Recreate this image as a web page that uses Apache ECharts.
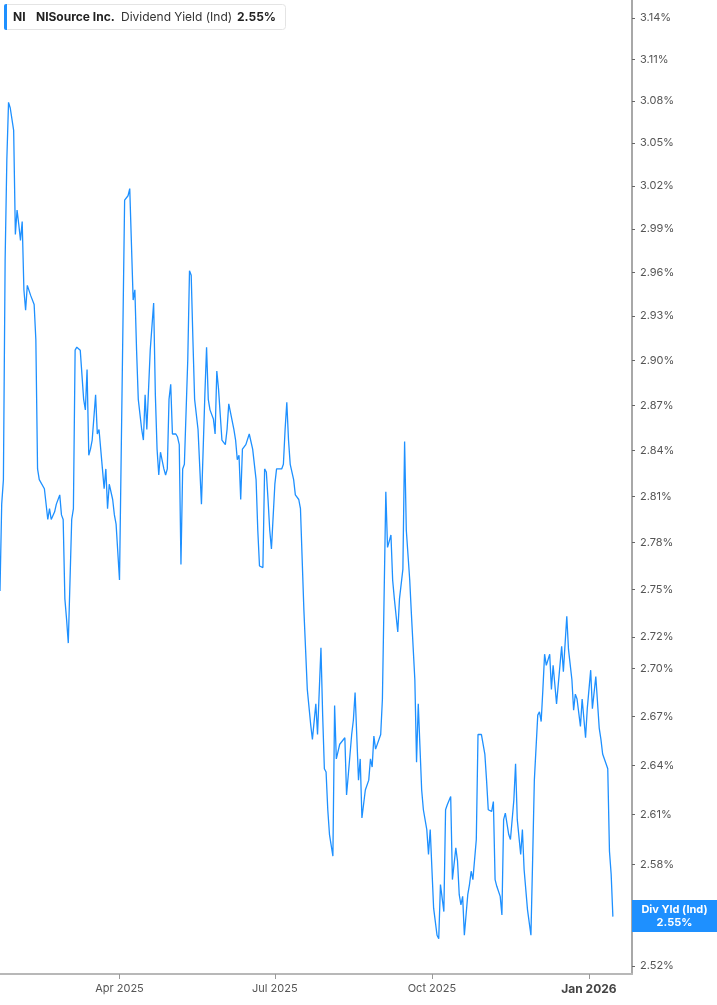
<!DOCTYPE html>
<html>
<head>
<meta charset="utf-8">
<script src="https://cdn.jsdelivr.net/npm/echarts@6/dist/echarts.min.js"></script>
<style>
  html, body { margin: 0; padding: 0; background: #fff; }
  #chart { width: 717px; height: 1005px; }
</style>
</head>
<body>
<div id="chart"></div>
<script>
// ---- Data ----
const dates = [
  '2025-01-21','2025-01-22','2025-01-23','2025-01-24','2025-01-25','2025-01-26','2025-01-27','2025-01-29','2025-01-30','2025-01-31',
  '2025-02-01','2025-02-02','2025-02-03','2025-02-04','2025-02-05','2025-02-06','2025-02-08','2025-02-10','2025-02-11','2025-02-12',
  '2025-02-13','2025-02-16','2025-02-18','2025-02-19','2025-02-20','2025-02-22','2025-02-23','2025-02-25','2025-02-26','2025-02-27',
  '2025-02-28','2025-03-01','2025-03-02','2025-03-04','2025-03-05','2025-03-06','2025-03-07','2025-03-08','2025-03-09','2025-03-11',
  '2025-03-12','2025-03-13','2025-03-14','2025-03-15','2025-03-16','2025-03-18','2025-03-19','2025-03-20','2025-03-22','2025-03-23',
  '2025-03-24','2025-03-25','2025-03-26','2025-03-28','2025-03-29','2025-03-30','2025-04-01','2025-04-04','2025-04-05','2025-04-06',
  '2025-04-07','2025-04-09','2025-04-10','2025-04-11','2025-04-12','2025-04-14','2025-04-15','2025-04-16','2025-04-17','2025-04-19',
  '2025-04-21','2025-04-22','2025-04-23','2025-04-24','2025-04-25','2025-04-27','2025-04-28','2025-04-29','2025-04-30','2025-05-01',
  '2025-05-02','2025-05-04','2025-05-05','2025-05-06','2025-05-07','2025-05-08','2025-05-09','2025-05-11','2025-05-12','2025-05-13',
  '2025-05-14','2025-05-15','2025-05-17','2025-05-19','2025-05-21','2025-05-22','2025-05-23','2025-05-24','2025-05-26','2025-05-27',
  '2025-05-28','2025-05-29','2025-05-31','2025-06-01','2025-06-02','2025-06-03','2025-06-04','2025-06-05','2025-06-07','2025-06-08',
  '2025-06-09','2025-06-10','2025-06-11','2025-06-12','2025-06-14','2025-06-16','2025-06-17','2025-06-18','2025-06-20','2025-06-21',
  '2025-06-22','2025-06-24','2025-06-25','2025-06-26','2025-06-27','2025-06-28','2025-06-29','2025-07-01','2025-07-02','2025-07-03',
  '2025-07-05','2025-07-06','2025-07-07','2025-07-08','2025-07-09','2025-07-10','2025-07-11','2025-07-12','2025-07-13','2025-07-15',
  '2025-07-16','2025-07-18','2025-07-19','2025-07-20','2025-07-22','2025-07-23','2025-07-25','2025-07-26','2025-07-28','2025-07-29',
  '2025-07-30','2025-07-31','2025-08-01','2025-08-02','2025-08-04','2025-08-05','2025-08-06','2025-08-08','2025-08-11','2025-08-12',
  '2025-08-13','2025-08-15','2025-08-16','2025-08-17','2025-08-19','2025-08-20','2025-08-21','2025-08-23','2025-08-25','2025-08-26',
  '2025-08-27','2025-08-28','2025-08-29','2025-09-01','2025-09-02','2025-09-04','2025-09-05','2025-09-07','2025-09-08','2025-09-09',
  '2025-09-11','2025-09-12','2025-09-14','2025-09-15','2025-09-16','2025-09-18','2025-09-19','2025-09-21','2025-09-22','2025-09-23',
  '2025-09-25','2025-09-26','2025-09-28','2025-09-29','2025-09-30','2025-10-01','2025-10-02','2025-10-04','2025-10-05','2025-10-06',
  '2025-10-08','2025-10-09','2025-10-10','2025-10-12','2025-10-13','2025-10-15','2025-10-16','2025-10-17','2025-10-18','2025-10-19',
  '2025-10-20','2025-10-22','2025-10-23','2025-10-24','2025-10-25','2025-10-27','2025-10-28','2025-10-30','2025-11-01','2025-11-02',
  '2025-11-03','2025-11-05','2025-11-06','2025-11-07','2025-11-08','2025-11-10','2025-11-11','2025-11-12','2025-11-13','2025-11-15',
  '2025-11-16','2025-11-18','2025-11-19','2025-11-20','2025-11-22','2025-11-23','2025-11-24','2025-11-26','2025-11-28','2025-11-29',
  '2025-11-30','2025-12-02','2025-12-03','2025-12-04','2025-12-05','2025-12-06','2025-12-07','2025-12-09','2025-12-10','2025-12-11',
  '2025-12-12','2025-12-13','2025-12-15','2025-12-16','2025-12-17','2025-12-19','2025-12-20','2025-12-22','2025-12-23','2025-12-24',
  '2025-12-25','2025-12-27','2025-12-28','2025-12-30','2025-12-31','2026-01-02','2026-01-03','2026-01-05','2026-01-06','2026-01-07',
  '2026-01-08','2026-01-09','2026-01-11','2026-01-12','2026-01-13','2026-01-14','2026-01-15'
];
const yields = [
  2.749,2.805,2.821,2.968,3.038,3.079,3.075,3.059,2.986,3.003,
  2.993,2.982,2.995,2.948,2.934,2.951,2.944,2.938,2.914,2.828,
  2.821,2.815,2.795,2.802,2.795,2.800,2.805,2.811,2.798,2.795,
  2.744,2.731,2.716,2.795,2.802,2.907,2.909,2.909,2.907,2.874,
  2.867,2.894,2.837,2.841,2.847,2.877,2.851,2.854,2.828,2.815,
  2.828,2.802,2.818,2.808,2.798,2.792,2.756,3.010,3.011,3.013,
  3.018,2.941,2.948,2.907,2.874,2.854,2.847,2.877,2.854,2.907,
  2.939,2.877,2.841,2.824,2.839,2.828,2.824,2.828,2.874,2.884,
  2.851,2.851,2.849,2.844,2.766,2.828,2.831,2.901,2.961,2.958,
  2.914,2.874,2.854,2.805,2.877,2.909,2.874,2.867,2.861,2.851,
  2.893,2.881,2.847,2.846,2.844,2.854,2.871,2.872,2.854,2.847,
  2.834,2.837,2.808,2.841,2.844,2.851,2.851,2.841,2.821,2.788,
  2.765,2.764,2.828,2.826,2.808,2.788,2.776,2.818,2.828,2.829,
  2.828,2.831,2.854,2.872,2.847,2.831,2.831,2.821,2.811,2.808,
  2.802,2.737,2.712,2.687,2.665,2.656,2.678,2.659,2.713,2.671,
  2.638,2.636,2.613,2.598,2.585,2.677,2.644,2.653,2.657,2.622,
  2.634,2.659,2.668,2.685,2.631,2.644,2.608,2.625,2.631,2.644,
  2.639,2.658,2.650,2.659,2.681,2.813,2.777,2.785,2.756,2.744,
  2.723,2.744,2.763,2.846,2.788,2.756,2.734,2.693,2.642,2.678,
  2.625,2.613,2.601,2.586,2.601,2.600,2.554,2.538,2.536,2.568,
  2.552,2.613,2.616,2.621,2.571,2.590,2.582,2.562,2.556,2.561,
  2.538,2.562,2.568,2.576,2.571,2.595,2.659,2.659,2.647,2.631,
  2.613,2.612,2.618,2.571,2.567,2.561,2.550,2.607,2.611,2.598,
  2.595,2.619,2.641,2.607,2.586,2.601,2.577,2.553,2.538,2.583,
  2.631,2.671,2.673,2.667,2.687,2.709,2.702,2.709,2.687,2.702,
  2.690,2.678,2.702,2.714,2.698,2.733,2.712,2.693,2.674,2.684,
  2.681,2.664,2.681,2.657,2.675,2.699,2.675,2.695,2.694,2.663,
  2.656,2.647,2.641,2.638,2.588,2.574,2.549
];
const yTickValues = [2.52,2.55,2.58,2.61,2.64,2.67,2.70,2.72,2.75,2.78,2.81,2.84,2.87,2.90,2.93,2.96,2.99,3.02,3.05,3.08,3.11,3.14];
const xTickDates = ['2025-04-01','2025-07-01','2025-10-01','2026-01-01'];
const xTickLabels = ['Apr 2025','Jul 2025','Oct 2025','Jan 2026'];
const ticker = 'NI';
const companyName = 'NISource Inc.';
const metricName = 'Dividend Yield (Ind)';
const tagName = 'Div Yld (Ind)';

// ---- Chart ----
const BLUE = '#1e90ff';
const FONT = 'Inter, "Noto Sans", Arial, sans-serif';
const chart = echarts.init(document.getElementById('chart'), null, { renderer: 'canvas' });

const parseT = s => Date.parse(s + 'T00:00:00Z');
const xTickTimes = xTickDates.map(parseT);
const xMin = parseT('2025-01-21');
const xMax = xMin + 370.2 * 86400000;
const lastVal = yields[yields.length - 1];
const lastStr = lastVal.toFixed(2) + '%';
const lnTicks = yTickValues.map(v => Math.log(v));

const option = {
  animation: false,
  backgroundColor: '#fff',
  textStyle: { fontFamily: FONT },
  grid: { left: 0, right: 85, top: 0, bottom: 31, containLabel: false, outerBoundsMode: 'none' },
  xAxis: {
    type: 'value',
    min: xMin,
    max: xMax,
    splitLine: { show: false },
    axisLine: { show: true, lineStyle: { color: '#b8b8b8', width: 2 } },
    axisTick: { show: true, length: 5, lineStyle: { color: '#999', width: 1 }, customValues: xTickTimes },
    axisLabel: {
      customValues: xTickTimes,
      margin: 9,
      fontSize: 11,
      color: '#555',
      fontFamily: FONT,
      formatter: function (val) {
        let best = 0, bd = Infinity;
        xTickTimes.forEach((t, i) => { const d = Math.abs(t - val); if (d < bd) { bd = d; best = i; } });
        const lab = xTickLabels[best];
        return lab.indexOf('Jan') === 0 ? '{b|' + lab + '}' : lab;
      },
      rich: { b: { fontWeight: 'bold', color: '#444', fontSize: 12, fontFamily: FONT } }
    }
  },
  yAxis: {
    type: 'value',
    position: 'right',
    min: Math.log(2.5153),
    max: Math.log(3.153),
    splitLine: { show: false },
    axisLine: { show: true, lineStyle: { color: '#a8a8a8', width: 2 } },
    axisTick: { show: true, inside: false, length: 3, lineStyle: { color: '#666', width: 1 }, customValues: lnTicks },
    axisLabel: {
      customValues: lnTicks,
      margin: 8,
      fontSize: 11,
      color: '#555',
      fontFamily: FONT,
      formatter: v => Math.exp(v).toFixed(2) + '%'
    }
  },
  series: [{
    type: 'line',
    data: dates.map((d, i) => [parseT(d), Math.log(yields[i])]),
    showSymbol: false,
    symbol: 'none',
    lineStyle: { color: BLUE, width: 1.3 },
    z: 3,
    markLine: {
      silent: true,
      symbol: 'none',
      animation: false,
      lineStyle: { color: 'rgba(0,0,0,0)', width: 0, opacity: 1 },
      data: [{ yAxis: Math.log(lastVal) }],
      label: {
        show: true,
        opacity: 1,
        position: 'end',
        distance: 42.5,
        align: 'center',
        verticalAlign: 'middle',
        offset: [0, 18],
        formatter: tagName + '\n' + lastStr,
        color: '#fff',
        fontWeight: 'bold',
        fontSize: 11,
        lineHeight: 13,
        fontFamily: FONT,
        backgroundColor: BLUE,
        padding: [3, 12, 3, 12],
        width: 61
      }
    }
  }],
  graphic: [
    { type: 'rect', z: 100, shape: { x: 4.5, y: 4.5, width: 281, height: 25, r: 3 }, style: { fill: '#fff', stroke: '#e4e4e4', lineWidth: 1 } },
    { type: 'rect', z: 101, shape: { x: 4, y: 4, width: 3, height: 26, r: [2, 0, 0, 2] }, style: { fill: BLUE } },
    { type: 'text', z: 102, x: 13, y: 17, style: { text: ticker, font: 'bold 12px ' + FONT, fill: '#222', verticalAlign: 'middle' } },
    { type: 'text', z: 102, x: 36, y: 17, style: { text: companyName, font: 'bold 12px ' + FONT, fill: '#222', verticalAlign: 'middle' } },
    { type: 'text', z: 102, x: 121, y: 17, style: { text: metricName, font: '12px ' + FONT, fill: '#333', verticalAlign: 'middle' } },
    { type: 'text', z: 102, x: 237, y: 17, style: { text: lastStr, font: 'bold 12px ' + FONT, fill: '#222', verticalAlign: 'middle' } }
  ]
};
chart.setOption(option);
</script>
</body>
</html>
